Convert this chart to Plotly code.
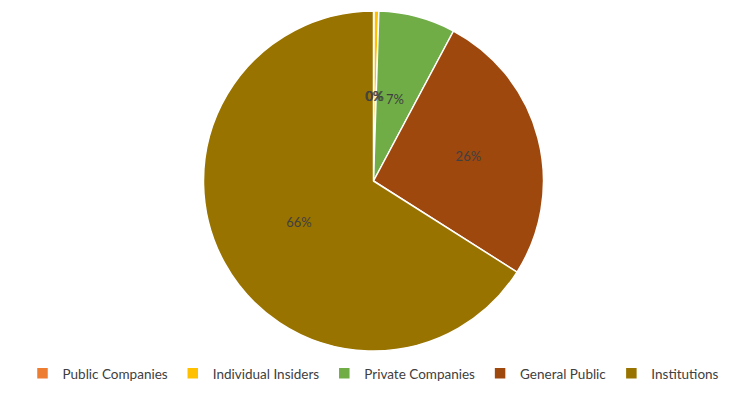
import math
import plotly.graph_objects as go

categories = ["Public Companies", "Individual Insiders", "Private Companies", "General Public", "Institutions"]
values = [0.05, 0.45, 7.3, 26.2, 66.0]
colors = ["#ED7D31", "#FFC000", "#70AD47", "#9E480E", "#997300"]

W, H = 747, 393
cx, cy, r = 373.5, 181, 170
label_font = dict(family="Lato", size=13, color="#404040")
total = sum(values)

# big slices: native inside labels; small slices: labels placed at half radius (Excel style)
templates = ["%{percent:.0%}" if v / total >= 0.1 else "" for v in values]

fig = go.Figure(go.Pie(
    labels=categories,
    values=values,
    sort=False,
    direction="clockwise",
    rotation=0,
    marker=dict(colors=colors, line=dict(color="white", width=1.5)),
    texttemplate=templates,
    textposition="inside",
    insidetextorientation="horizontal",
    textfont=label_font,
    domain=dict(x=[(cx - r) / W, (cx + r) / W], y=[(H - cy - r) / H, (H - cy + r) / H]),
    hoverinfo="label+percent",
))

cum = 0.0
for v in values:
    mid = (cum + v / 2) / total * 2 * math.pi
    cum += v
    if v / total >= 0.1:
        continue
    px = cx + 0.5 * r * math.sin(mid)
    py = cy - 0.5 * r * math.cos(mid)
    fig.add_annotation(x=px / W, y=(H - py) / H, xref="paper", yref="paper",
                       text=f"{round(v / total * 100)}%", showarrow=False,
                       font=label_font, xanchor="center", yanchor="middle")

fig.update_layout(
    width=W, height=H,
    margin=dict(l=0, r=0, t=0, b=0),
    paper_bgcolor="white",
    showlegend=True,
    legend=dict(orientation="h", x=0.5, xanchor="center", y=0.01, yanchor="bottom",
                font=dict(family="Lato", size=13.5, color="#404040"),
                traceorder="normal"),
)

fig.write_html("out.html")
